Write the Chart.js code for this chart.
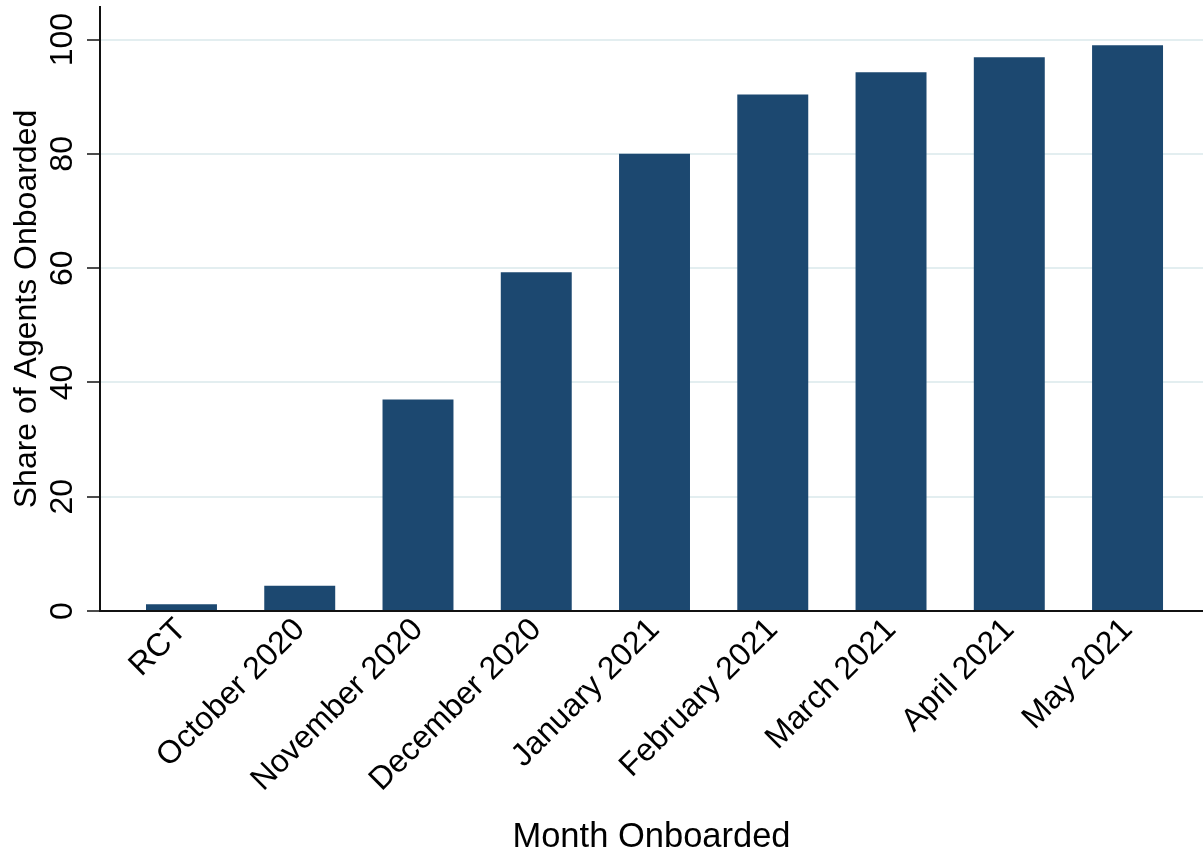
<!DOCTYPE html>
<html>
<head>
<meta charset="utf-8">
<script src="https://cdn.jsdelivr.net/npm/chart.js@4/dist/chart.umd.min.js"></script>
<style>
  html, body { margin: 0; padding: 0; background: #ffffff; }
  #wrap { width: 1203px; height: 858px; }
</style>
</head>
<body>
<div id="wrap"><canvas id="c" width="1203" height="858"></canvas></div>
<script>
const categories = ["RCT", "October 2020", "November 2020", "December 2020", "January 2021", "February 2021", "March 2021", "April 2021", "May 2021"];
const shareOnboarded = [1.2, 4.4, 37.0, 59.3, 80.0, 90.4, 94.3, 96.9, 99.0];
const yTicks = [0, 20, 40, 60, 80, 100];
const xTitle = "Month Onboarded";
const yTitle = "Share of Agents Onboarded";

const FONT = "'Liberation Sans', Arial, Helvetica, sans-serif";
const points = shareOnboarded.map((v, i) => ({ x: i, y: v }));

new Chart(document.getElementById('c'), {
  type: 'bar',
  data: {
    datasets: [{
      data: points,
      backgroundColor: '#1c4870',
      borderWidth: 0,
      barPercentage: 0.6,
      categoryPercentage: 1.0
    }]
  },
  options: {
    responsive: false,
    animation: false,
    devicePixelRatio: 1,
    layout: { padding: { top: 7, left: 0, right: 0, bottom: 0 } },
    plugins: { legend: { display: false }, tooltip: { enabled: false } },
    scales: {
      x: {
        type: 'linear',
        min: -0.689,
        max: 8.638,
        offset: false,
        grid: { display: false, drawTicks: false },
        border: { display: true, color: '#111111', width: 2 },
        afterBuildTicks: (s) => { s.ticks = categories.map((_, i) => ({ value: i })); },
        afterFit: (s) => { s.height = 247; s.paddingLeft = 0; s.paddingRight = 0; },
        ticks: {
          autoSkip: false,
          minRotation: 45,
          maxRotation: 45,
          padding: 0,
          color: '#000000',
          font: { family: FONT, size: 32 },
          callback: (v) => categories[v]
        },
        title: {
          display: true,
          text: xTitle,
          color: '#000000',
          font: { family: FONT, size: 34.5 },
          padding: { top: 0, bottom: 0 }
        }
      },
      y: {
        min: 0,
        max: 105.7,
        grid: { color: '#e3eef0', lineWidth: 2, tickColor: '#111111', tickWidth: 1.5, tickLength: 13 },
        border: { display: true, color: '#111111', width: 2 },
        afterBuildTicks: (s) => { s.ticks = yTicks.map(v => ({ value: v })); },
        afterFit: (s) => { s.width = 100; s.paddingTop = 0; s.paddingBottom = 0; },
        ticks: {
          minRotation: 90,
          maxRotation: 90,
          crossAlign: 'center',
          padding: -3,
          color: '#000000',
          font: { family: FONT, size: 32 }
        },
        title: {
          display: true,
          text: yTitle,
          color: '#000000',
          font: { family: FONT, size: 32 },
          padding: { top: 7.5, bottom: 0 }
        }
      }
    }
  }
});
</script>
</body>
</html>
